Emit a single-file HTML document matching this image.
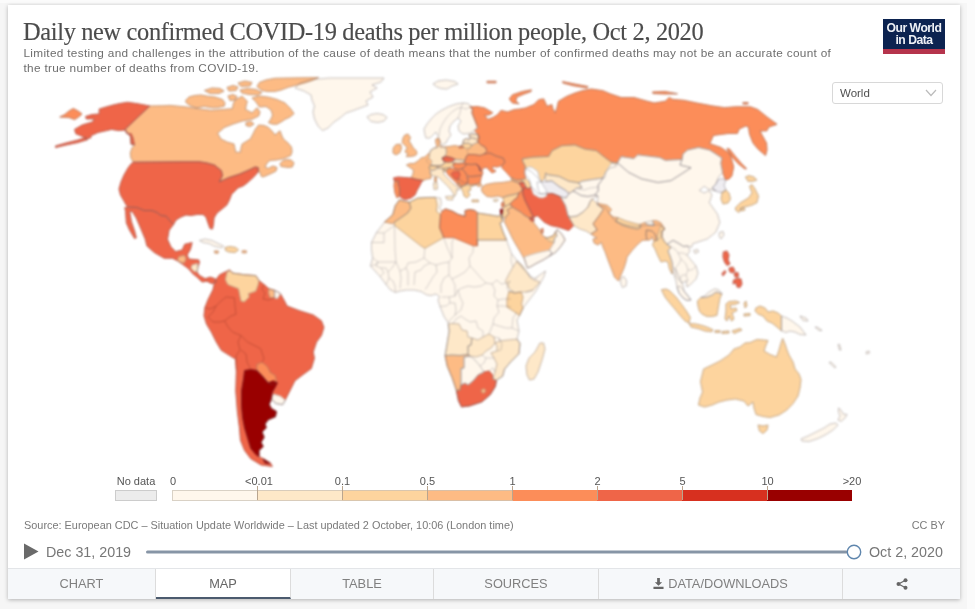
<!DOCTYPE html>
<html><head><meta charset="utf-8"><title>Daily new confirmed COVID-19 deaths per million people</title>
<style>
html,body{margin:0;padding:0;}
body{width:975px;height:609px;background:#f6f6f6;position:relative;overflow:hidden;font-family:"Liberation Sans",sans-serif;}
#card{position:absolute;left:8px;top:5px;width:952px;height:594px;background:#fff;box-shadow:0 1px 4px rgba(0,0,0,.28);}
#title{position:absolute;left:23px;top:17px;font-family:"Liberation Serif",serif;font-size:24.4px;color:#4c4c4c;white-space:nowrap;letter-spacing:-.34px;line-height:30px;-webkit-text-stroke:.15px #4c4c4c;}
.sub{position:absolute;left:23.5px;font-size:11.8px;letter-spacing:.31px;color:#6e6e6e;white-space:nowrap;line-height:15px;}
#logo{position:absolute;left:883px;top:19px;width:62px;height:30px;background:#0c2350;border-bottom:5px solid #b5344c;color:#eef1f6;font-weight:bold;font-size:12.2px;line-height:12.4px;text-align:center;letter-spacing:-.5px;}
#logo span{display:block;padding-top:3px;}
#sel{position:absolute;left:832px;top:82px;width:109px;height:20px;border:1px solid #d8d8d8;border-radius:3px;background:#fff;font-size:11.5px;color:#505050;line-height:20px;}
#sel span{padding-left:7px;}
.leg{position:absolute;font-size:11px;color:#555;top:475px;line-height:12px;white-space:nowrap;transform:translateX(-50%);}
#src{position:absolute;left:24px;top:519px;font-size:10.9px;color:#7a7a7a;white-space:nowrap;line-height:12px;}
#cc{position:absolute;right:30px;top:519px;font-size:10.9px;color:#7a7a7a;line-height:12px;}
.tl{position:absolute;top:543px;font-size:14.3px;color:#777;line-height:18px;white-space:nowrap;}
#tabs{position:absolute;left:8px;top:568px;width:952px;height:31px;background:#f6f8fa;border-top:1px solid #e3e5e8;box-sizing:border-box;}
.tab{position:absolute;top:0;height:30px;box-sizing:border-box;border-right:1px solid #dcdcdc;font-size:12.8px;color:#808080;text-align:center;line-height:30px;}
.tab.on{background:#fff;border-bottom:2px solid #4b5b6e;height:30px;top:0;color:#666;}
#title,.sub,.leg,#src,#cc,.tl,.tab,#logo span,#sel span{filter:blur(.35px);}
</style></head><body>
<div style="position:absolute;left:967px;top:0;width:8px;height:609px;background:#fbfbfb"></div><div style="position:absolute;left:0;top:0;width:975px;height:3px;background:#fbfbfb"></div>
<div id="card"></div>
<div id="title">Daily new confirmed COVID-19 deaths per million people, Oct 2, 2020</div>
<div class="sub" style="top:46px">Limited testing and challenges in the attribution of the cause of death means that the number of confirmed deaths may not be an accurate count of</div>
<div class="sub" style="top:61px">the true number of deaths from COVID-19.</div>
<div id="logo"><span>Our World<br>in Data</span></div>
<div id="sel"><span>World</span><svg style="position:absolute;right:5px;top:6px" width="12" height="8" viewBox="0 0 12 8"><path d="M1 1 L6 6.5 L11 1" fill="none" stroke="#bbb" stroke-width="1.2"/></svg></div>
<svg id="map" style="position:absolute;left:0;top:0;filter:blur(.8px)" width="975" height="609" viewBox="0 0 975 609" stroke-linejoin="round">
<g stroke-width=".9">
<path d="M295 88L300 83L312 79.5L330 78L384 78L381 82L372 85L377 88L370 92L373 97L366 101L368 105L360 108L352 111L346 113L340 118L334 122L328 128L322.5 130.5L318 126L314.5 119L313 112L314.5 106L312 100L311 95L304 91Z" fill="#fff7ec" stroke="#fff7ec"/>
<path d="M149.7 106L163 105.8L170 105.4L186.4 107L200 109L211 110.3L222 109.5L232.4 108.7L233.5 103L235.7 99.6L242.2 96.3L247.2 101.3L246 106L245.5 109.5L252 112.8L257 107.8L260 112L258.7 116L252 119.3L242.2 121L233 124L224.2 127.5L217.6 133.3L220.9 139L227 142L234 144L235 149L235.7 152.2L240.6 152.2L241 148L242.2 144L247 141L250.4 139L253 134L255.4 129.2L258.7 125L264 125.5L268.5 127.5L272 131L275 135L280 130.8L281.5 135L283.3 139L288 143L291.5 147.2L292 152L290.7 155.5L283.3 158.7L276 160L270 160.4L267 163L265 167L268 168.5L273 166L277 167.5L276 171L270 174L263 177L261 176L260 172L258.2 171.9L258.2 167.6L255.1 167L249 170L239.1 174.3L229.3 177.4L219.4 181.7L222.5 175.6L221.3 170.6L214.5 165.1L207 163L199.7 161.8L180 161.8L133.3 162.2L131 158L130.3 153L132 148L134.5 144.7L131.2 144.2L130.6 136.8L127.5 133L125 129.4Z" fill="#fdbb84" stroke="#fdbb84"/>
<path d="M280 163.7L283 160.5L286.6 159.6L291 160L294 162.8L292.3 167L288 167.5L285 167L281 166.5Z" fill="#fdbb84" stroke="#fdbb84"/>
<path d="M259.5 82.4L266 80L275 78.3L318.6 77.5L312 80.5L306.3 82.4L297 85L288.2 87.3L281 90L275 91.4L268 91.5L262 90.6L257 86.5Z" fill="#fdbb84" stroke="#fdbb84"/>
<path d="M240 90L247 88.5L256 89.5L262 92.5L258 95L249 94.5L242 93Z" fill="#fdbb84" stroke="#fdbb84"/>
<path d="M204.5 90.5L212 88L220 88.5L224 91L219 93.5L210 93.5Z" fill="#fdbb84" stroke="#fdbb84"/>
<path d="M227 87.5L233 85.5L238 87L236 90.5L229 91Z" fill="#fdbb84" stroke="#fdbb84"/>
<path d="M238 83L245 81L252 82.5L250 86L241 86.5Z" fill="#fdbb84" stroke="#fdbb84"/>
<path d="M185.6 100.5L189 97L194.6 95.5L201 95L207.8 96.3L215 97L222.5 99.6L225 103L224.2 106.2L218 107.5L212.7 107.8L204 106.5L196.3 107.8L190 105.5L186.4 102.9Z" fill="#fdbb84" stroke="#fdbb84"/>
<path d="M228 96L233 94.5L237 96.5L235 100L230 100.5Z" fill="#fdbb84" stroke="#fdbb84"/>
<path d="M252 98L259 96L268.5 97.2L277 99.5L285 103L290 108L294 113.6L290 117L285 119.3L281 122L276.7 124.3L272 124L268.5 122.6L271 119L272.6 115L271 110L266 106.5L259.5 107L256 102Z" fill="#fdbb84" stroke="#fdbb84"/>
<path d="M246 122.5L251 121.5L254 124L250 126.5L246 125.5Z" fill="#fdbb84" stroke="#fdbb84"/>
<path d="M133.3 162.2L180 161.8L199.7 161.8L207 163L214.5 165.1L221.3 170.6L222.5 175.6L219.4 181.7L229.3 177.4L239.1 174.3L249 170L255.1 167L258.2 167.6L258.2 171.9L253.9 176.8L247.1 183L243 186L237.9 187.9L234 192L231.7 194L229.3 200.2L226.8 205L222 209L217 213L214 218L213.5 224L212.5 229L210 228.5L208 223L206 217L203 214.5L197 214.5L191 215.5L186 215L181 217L176 220L173.5 224.5L170 221L166 216L161 215.5L157 212.5L152 210.5L144 210.5L137 207.5L127 206.5L124 201L120.5 195L119 189L121 182L124 175L128 168L131 164Z" fill="#ef6548" stroke="#ef6548"/>
<path d="M149.7 106L138 103.8L127.5 102.3L120 103.5L114 104.8L106 107L99.2 109.1L99.2 114L91.8 114.6L85.6 116.5L86.3 118.9L94.3 118.9L92.4 122L87 123.5L82 125.1L74.6 129.4L75.8 133.7L82 136.2L85.6 138.6L90.6 138L91.2 135.6L98 132.5L106.6 130.6L111.5 129.4L118.9 130.6L125 130L126.9 133.7L131.2 133.7L133.1 138L134.5 144.7L131.2 144.2L130.6 136.8L127.5 133L125 129.4Z" fill="#ef6548" stroke="#ef6548"/>
<path d="M85.6 137.4L88 139.5L78 142.5L66 145L55.5 147.5L55.5 146L66 143L78 140Z" fill="#ef6548" stroke="#ef6548"/>
<path d="M124.8 207.5L137 207.5L144 210.5L152 210.5L157 212.5L161 215.5L166 216L170 221L173.5 224.5L169.1 230.3L167.5 239.3L170.8 246.7L175.7 251.6L182.2 250L184.7 244.3L192.1 242.6L190.5 249.2L187.2 254.9L188.8 259L198.7 259.9L199.5 262.3L197.8 267.2L197 272.2L199.5 275.5L205.2 278.7L210.2 277.1L215.1 278.7L216.7 282L211.8 283.7L206.9 281.2L202 282L197 277.1L192.9 273.8L188.8 268.9L182.2 264L177.3 260.7L172.4 258.2L164.2 258.2L154.3 252.5L146.9 245.9L145.3 239.3L141.2 229.5L136.3 218L132.2 211.4L129.7 211.4L131.3 221.3L134.6 231.1L136.3 237.7L134.6 238.5L129.7 230.3L126.4 223L125.6 211.4Z" fill="#ef6548" stroke="#ef6548"/>
<path d="M179 256.5L184.5 255.5L186 259L184 263L180 262L177.5 260Z" fill="#fdbb84" stroke="#fdbb84"/>
<path d="M192 265L197.5 263.5L198 268L197 272L193.5 271L191 268Z" fill="#fee8c8" stroke="#fee8c8"/>
<path d="M199.5 240.5L205 239L212 240.5L218 243.5L223.5 246L222 247.8L215 246.5L209 243.5L203 242.5Z" fill="#fff7ec" stroke="#fff7ec"/>
<path d="M225 247.5L230 246.5L236 247.5L238.5 250L235 252.5L229 252L225.5 250.5Z" fill="#fdd49e" stroke="#fdd49e"/>
<path d="M214.3 251L218.4 251L218 253.3L214.8 253Z" fill="#fdbb84" stroke="#fdbb84"/>
<path d="M242.2 250.8L246.3 250.8L246.3 252.8L242.2 252.8Z" fill="#fdbb84" stroke="#fdbb84"/>
<path d="M214.7 281.3L219.6 274.8L229.5 269.9L232.8 273.1L244.3 274.8L255.8 275.6L259 280.5L264 284.6L268.9 288.7L274.6 290.4L278 292L280.4 293.7L284.5 301L287 306L300 310.9L313.2 315L321.4 320.8L323.9 327.3L321.4 335.5L316.5 342.1L313.2 352L314.4 358.2L311.3 368.5L303 374.6L294.9 380.8L290.8 389L285.6 399.2L282.6 404.4L276.4 403.3L271.3 399.2L269.2 404.4L271.3 408.5L276.4 411.5L275.4 416.7L268.2 419.7L265.1 423.8L266.2 427.9L262 432L264.1 437.2L261 442.3L263.1 446.4L259 450.5L259 456.7L264 459L270.3 462.8L272.3 466.5L261 464.9L250.8 458.7L244.6 450.5L240.5 440.3L239.5 427.9L237.4 411.5L235.8 391L236.4 370.5L235.4 358L234.4 358.5L221.3 350.3L216.3 342.1L211.4 332.2L206.5 324L204 315.8L204.9 307.6L208.1 299.4L213 289.6Z" fill="#ef6548" stroke="#ef6548"/>
<path d="M227 272.3L229.5 270.5L232.8 273.1L244.3 274.8L255.8 275.6L259 280.5L258.2 284.6L255.8 291.2L248.4 293.7L249.2 297L244.3 301.9L241 301L238.5 288.7L227.8 284.6L225.4 279.7Z" fill="#fdd49e" stroke="#fdd49e"/>
<path d="M268.9 288.7L274.6 290.4L274.6 297.8L270 297.5L268.5 293Z" fill="#fdbb84" stroke="#fdbb84"/>
<path d="M274.6 290.4L278 292L280.4 293.7L277.5 298.6L274.6 297.8Z" fill="#fff7ec" stroke="#fff7ec"/>
<path d="M256.9 364.4L262 362.3L267.2 366.4L270.3 372.6L275.4 375.6L276.4 381.8L272.3 384.9L268.2 382.8L262 375.6L256.9 370.5Z" fill="#fc8d59" stroke="#fc8d59"/>
<path d="M244.6 370.5L250.8 369.5L256.9 370.5L262 375.6L268.2 382.8L273.3 380.8L277.4 382.8L275.4 386.9L272.3 392L271.3 399.2L269.2 404.4L271.3 408.5L276.4 411.5L275.4 416.7L268.2 419.7L265.1 423.8L266.2 427.9L262 432L264.1 437.2L261 442.3L263.1 446.4L259 450.5L259 456.7L255.9 454.6L250.8 448.5L247.7 438.2L244.6 427.9L242.6 417.7L241.5 405.4L241.5 391L243.6 378.7Z" fill="#990000" stroke="#990000"/>
<path d="M263 459L270 463.5L265 463Z" fill="#990000" stroke="#990000"/>
<path d="M273.3 394.1L280.5 396.2L285.6 400.3L282.6 405L275.4 403.7L271.9 399.2Z" fill="#fff7ec" stroke="#fff7ec"/>
<path d="M367 117L371 114.5L377 113.5L383 114.5L387 117.5L384 121L378 122.5L371 121.5Z" fill="#fff7ec" stroke="#fff7ec"/>
<path d="M433 84L438 81L446 80L455 81.5L458 84L452 86L447 89L441 88.5L437 87Z" fill="#fff7ec" stroke="#fff7ec"/>
<path d="M487 81.3L496 81.3L496 82.8L487 82.8Z" fill="#fc8d59" stroke="#fc8d59"/>
<path d="M425 135L424 129L427 124L431 119L436 114L442 110L449 106.5L456 104L463 103L468 103.5L471 106L472.5 109L472 113L474 118L476 123L477 127L474 131L469 133.5L463 134L459 131L458 126L461 121L458 118L454 121L450 126L449 131L451 135L448 139L446 143L442 145L439 141L438 136L436 132L433 135L430 138L426 138Z" fill="#fff7ec" stroke="#fff7ec"/>
<path d="M404.7 135.2L408 134L410.5 137.7L409 141L411 144L413 147.5L416.2 150.8L417 153.5L415.4 155.5L411 156.5L406.3 156.6L408 153.5L405 152L407.2 147.5L405 145.5L402.2 142.6L403 138Z" fill="#fdbb84" stroke="#fdbb84"/>
<path d="M393.2 148L396 144.5L400.6 144.3L401.5 148L400 152.5L396 154.9L393 153Z" fill="#fdbb84" stroke="#fdbb84"/>
<path d="M406.5 165L410 163.5L414 163.5L418 161L421 158L425 157L428 154L431 151L434 148L437 147.5L436 143L435.5 139.5L438.5 138L440 141L439.5 145L443 147L449 146.5L455 145.5L459 146.5L461.5 146L463 143.5L463.5 140L467 138.5L469 140L470 137.5L469 135L473 134L478 134.5L479 138L478 142L481 145L485 147L487 151L484 154L480 155.5L474 154.5L468 154.5L466 157L465 160.5L461 160L455.5 159.5L451 157.5L446 156.5L442 158L445 162L442 165.5L437 166L431 165.5L429 167L430 169.5L430 172L431 175L431 178.5L427 179L423 180.5L417 179.5L411 178L413 174L413.5 170L410 167.5Z" fill="#fdbb84" stroke="#fdbb84"/>
<path d="M393.5 178L398 177L405 177.5L411 178L417 179.5L423 180.5L421.5 182L419.5 186L417 190.5L415 195L411 198L406 199.5L402 198.5L399.5 196L399.5 188L398 184L398.5 181L394.5 181Z" fill="#ef6548" stroke="#ef6548"/>
<path d="M394.5 181L398.5 181L398 184L399.5 188L399.5 196L397 198L395 193L394 186Z" fill="#fc8d59" stroke="#fc8d59"/>
<path d="M429.5 155L430.5 150L434 148L437 147.5L439.5 145.5L440.5 147.5L443 147L446 148L446.5 153L445 156L442 158L445 162L442 165.5L437 166L431 165.5L432 161L429 158Z" fill="#fee8c8" stroke="#fee8c8"/>
<path d="M442 158L446 156.5L451 157.5L455.5 159.5L452 162L447 162.5L443.5 161Z" fill="#ef6548" stroke="#ef6548"/>
<path d="M437 166L442 165.5L445 162L447 162.5L452 162L454 163L453 166L449 168L443 168.5L438 168Z" fill="#fdd49e" stroke="#fdd49e"/>
<path d="M429 167L431 165.5L437 166L438 168L434 170L430 169.5Z" fill="#fdd49e" stroke="#fdd49e"/>
<path d="M452 162L455.5 159.5L461 160L465 160.5L464 163L458 163.5L454 163Z" fill="#fee8c8" stroke="#fee8c8"/>
<path d="M430 172L434 170L438 168L443 168.5L446 171L443 171L444.5 175L448.5 179L453 183.5L457 186.5L459.5 190L456.5 189.5L456.5 193L454.5 196.5L452.5 192L448 186.5L443 181.5L438.5 177L434 176L431 175Z" fill="#fee8c8" stroke="#fee8c8"/>
<path d="M445.5 196.5L453.5 196L452.5 200L447 199.5Z" fill="#fee8c8" stroke="#fee8c8"/>
<path d="M433.5 183L437 182.5L437.5 189L434 189.5Z" fill="#fee8c8" stroke="#fee8c8"/>
<path d="M434.5 177.5L436.5 177.5L436.5 181.5L434.5 181.5Z" fill="#fdbb84" stroke="#fdbb84"/>
<path d="M453 166L454 163L458 163.5L464 163L466.5 164L464 167.5L459 169.5L455 169Z" fill="#fc8d59" stroke="#fc8d59"/>
<path d="M464 167.5L466.5 164L471 164.5L476 164L479 167L480 171L483 172L482 175L477 176L471 176.5L467 175.5L465 172L462 169Z" fill="#fc8d59" stroke="#fc8d59"/>
<path d="M464 163L465 160.5L466 157L468 154.5L474 154.5L480 155.5L484 154L490 153L496 156L503 158L505 162L502 165.5L497 167L493 166.5L492 169L496 171L492 173L489 170L487 167.5L483 168L482 171L480 171L479 167L476 164L471 164.5L466.5 164Z" fill="#fc8d59" stroke="#fc8d59"/>
<path d="M476 164L479 166L481 169.5L480 171L479 167Z" fill="#ef6548" stroke="#ef6548"/>
<path d="M446 171L449 168L455 169L459 169.5L462 169L465 172L467 175.5L467 177L468 180L467.5 183.5L465 185L461 188L458.5 186L456 182.5L452 178.5L448 174.5Z" fill="#fc8d59" stroke="#fc8d59"/>
<path d="M443 168.5L449 168L446 171L443 171Z" fill="#fdd49e" stroke="#fdd49e"/>
<path d="M451 174L453 172L459 171.5L460 175L458 179.5L455 179Z" fill="#ef6548" stroke="#ef6548"/>
<path d="M458 179.5L460 179L462 182L465 182.5L467.5 183.5L465 185L462 186L460 184L458 182.5Z" fill="#fc8d59" stroke="#fc8d59"/>
<path d="M458.5 186L458 182.5L460 184L461 188Z" fill="#fdbb84" stroke="#fdbb84"/>
<path d="M467 177L471 176.5L477 176L482 175L481 178L480 183L476 184.5L471 185L467.5 183.5L468 180Z" fill="#fc8d59" stroke="#fc8d59"/>
<path d="M461 188L462 186L465 185L467.5 185L471 185L476 184.5L473 186L470 187L471 190L468 191L470 195L467 198L464 196L463 192Z" fill="#fdd49e" stroke="#fdd49e"/>
<path d="M472 200L478.5 200L478.5 201.8L472 201.8Z" fill="#fdd49e" stroke="#fdd49e"/>
<path d="M493.5 199.8L496 199L498.3 199.6L497 201.5L494 201.5Z" fill="#fee8c8" stroke="#fee8c8"/>
<path d="M476 184.5L480 183L482 185.5L478 186.5Z" fill="#fdbb84" stroke="#fdbb84"/>
<path d="M461.5 146L463 143.5L468 143L472 145L470 148L466 148.5Z" fill="#fdd49e" stroke="#fdd49e"/>
<path d="M463.5 140L467 138.5L469 140L470 137.5L475 138.5L478 142L472 145L468 143L463 143.5Z" fill="#fee8c8" stroke="#fee8c8"/>
<path d="M469 135L473 134L478 134.5L479 138L475 138.5L470 137.5Z" fill="#fee8c8" stroke="#fee8c8"/>
<path d="M459 146.5L461.5 146L464 147.5L459.5 148.3Z" fill="#fc8d59" stroke="#fc8d59"/>
<path d="M469.9 107.1L477 106.5L484.6 107.9L492.8 112.8L489 115L484.6 115.3L487.9 119.4L493 117.5L497.8 114.5L501 110.4L507.6 112L514.2 109.6L520 109L525.7 107.9L533.9 104.6L538.8 99.7L543.7 98.9L547 106.3L551.9 104.6L553 109L555.2 112.8L556.9 107.9L558.5 101.3L566.7 96.4L574.9 93.1L583 90.5L591.3 89L602.8 90.7L610 93.8L621 97.5L634 97.5L647 101.2L654.3 103L665.4 101.2L669 97.5L672.8 99.4L683.8 100.3L696.8 103L711.5 105.8L724.5 107.7L735.5 106.8L750.3 106.8L757.7 109.5L766.9 116.9L777 124.3L768.8 127L766.9 130.8L760 131L762 135L766.5 143L767 150L765.5 155.5L758 149L753 143L749.5 134L748.5 127L745.7 126L739.2 129L737.4 133.5L728 133.5L713.4 135.4L709.7 143.7L720.8 147.4L730 153.8L733.7 166.8L731.8 176L729 179L725.4 179.7L722.6 172.3L720.8 163L722 158L709.7 150L698.6 147.4L687.5 150L683 153.8L682 159.4L665.4 160.3L659.8 157.5L637.7 154.8L634 158.5L621 156.6L617.4 163L611 162L604.5 157.2L596.3 150.6L584.8 149L574.9 144.9L561.8 145.7L552 150.6L548.7 156.4L532.2 157.2L522.4 158.8L522.8 161.5L525.7 167L524 172L525.7 178.5L521 180L515.8 180L511 177.5L506 172L502 168L502 165.5L505 162L503 158L496 156L490 153L484 154L487 151L485 147L481 145L478 142L479 138L478 134.5L474.8 130.9L478 127.6L476 123L474 118L472 113L472.5 109Z" fill="#fc8d59" stroke="#fc8d59"/>
<path d="M509.3 98.9L512.5 94.8L522.4 91.5L531.4 89.9L531 91.5L524 94L516.7 97.2L515.8 101.3L519.1 103.8L512.5 103Z" fill="#fc8d59" stroke="#fc8d59"/>
<path d="M562.6 81.6L574.9 84.1L588.1 86.6L587 88L573.3 85.7L563 83Z" fill="#fc8d59" stroke="#fc8d59"/>
<path d="M652.5 92L665 91.5L677.4 93.8L665 94L653 93.5Z" fill="#fc8d59" stroke="#fc8d59"/>
<path d="M727 148.5L729.5 149L735 156L741 163L746.6 168.6L745 169L738 163.5L732 157L728 151Z" fill="#fc8d59" stroke="#fc8d59"/>
<path d="M743 102.5L748 102.5L748 104L743 104Z" fill="#fc8d59" stroke="#fc8d59"/>
<path d="M59.8 117L64.7 114.6L69 111L73.3 108.5L78 111L82 114L78.5 117L74.6 119.6L69 117.5Z" fill="#fc8d59" stroke="#fc8d59"/>
<path d="M522.4 158.8L532.2 157.2L548.7 156.4L552 150.6L561.8 145.7L574.9 144.9L584.8 149L596.3 150.6L604.5 157.2L611 162L617.4 163L616 166.5L610 168L606 171.5L604.5 177.9L591.8 179.6L582 181.2L578.7 182.8L568.8 181.2L559 176.3L547.5 174.6L545.8 173L545 178L541 182L537 177L531 171.3L524.5 168L525.7 167L522.8 161.5Z" fill="#fdd49e" stroke="#fdd49e"/>
<path d="M545.8 173L547.5 174.6L559 176.3L568.8 181.2L578.7 182.8L582 187.8L577 188L573 191L569 193.5L565 190L559 186.5L552 181L546 181.5L545 178Z" fill="#fee8c8" stroke="#fee8c8"/>
<path d="M537 182L541 182L546 181.5L552 181L559 186.5L565 190L569 193.5L566 198L560.6 196.8L552.4 193.5L545 193L540 194L538 189Z" fill="#efedf1" stroke="#efedf1"/>
<path d="M578.7 182.8L582 181.2L591.8 179.6L603.3 177.9L601.3 180.8L598.2 185L598.2 191L595 195L588 196.5L581 195.5L577 193L573 191L577 188L582 187.8Z" fill="#fff7ec" stroke="#fff7ec"/>
<path d="M482 187L486 184.5L494 183L502 182.5L509 181.5L512 180.5L515.8 182L519 183L521 186L522.8 189.4L519 193L514 194.5L507 196L503 197.5L498 196L492 197L487 196.5L483 193L481.5 190Z" fill="#fdbb84" stroke="#fdbb84"/>
<path d="M511 177.5L515.8 180L521 180L524 182.5L519 183L515.8 182L512 180.5Z" fill="#fdbb84" stroke="#fdbb84"/>
<path d="M519 183L524 182.5L526 187L522.8 189.4L521 186Z" fill="#ef6548" stroke="#ef6548"/>
<path d="M521 180L525.7 178.5L530 182.5L531 187L528 189L526 187L524 182.5Z" fill="#fdd49e" stroke="#fdd49e"/>
<path d="M503 197.5L507 196L514 194.5L519 193L517 198L514.6 199.3L510 204L505 206.5L503.5 202Z" fill="#fdd49e" stroke="#fdd49e"/>
<path d="M501.5 203L503.5 202L504 206L502 207.5Z" fill="#fc8d59" stroke="#fc8d59"/>
<path d="M500.3 209.5L502.3 209L502.8 213.5L502 219.5L500.7 216Z" fill="#990000" stroke="#990000"/>
<path d="M503 212L504 206.5L505 206.5L510 204L512 207L507 210L509 213L505 218L502 217.5Z" fill="#fdd49e" stroke="#fdd49e"/>
<path d="M514.6 199.3L517 198L519 193L522.8 189.4L522.8 194.3L525.3 200.9L529.4 209.1L533.5 217.3L529.4 218.1L524 215L521.2 212.4L513 207.5L510 204Z" fill="#fc8d59" stroke="#fc8d59"/>
<path d="M522.8 189.4L526 187L528 189L531 187L534 189L537 193.5L543 194.5L552.4 193.5L560.6 196.8L565.5 205.8L568 215.7L573.7 225.5L568.8 230.5L559 227.2L550.8 225.5L544.2 222.2L537.6 215.7L533.5 217.3L529.4 209.1L525.3 200.9L522.8 194.3Z" fill="#ef6548" stroke="#ef6548"/>
<path d="M505 218L509 213L507 210L512 207L513 207.5L521.2 212.4L524 215L529.4 218.1L533 219.5L534 223L538 228L541 232L543 236L547 238L553 236L555.5 232L557 229.5L560 232L563 236L565 240L561 246L556 252L549.4 256.1L543 260L536.1 263.5L531 266.5L527.5 268L526 264L524.3 259L521.5 254L518.4 248.7L515 243L511.8 237L508 229L504.5 222Z" fill="#fdbb84" stroke="#fdbb84"/>
<path d="M529.4 218.1L533.5 217.3L534 221L531 221Z" fill="#ef6548" stroke="#ef6548"/>
<path d="M541 229L543 228.5L543 233L541.5 233Z" fill="#fc8d59" stroke="#fc8d59"/>
<path d="M545 237.5L547 238L553 236L555.5 232L557 236L554.6 238L553.9 242.8L548 240.5Z" fill="#fdd49e" stroke="#fdd49e"/>
<path d="M549.4 256.1L556 252L561 246L565 240L563 236L560 232L557 229.5L556 233L557 236L554.6 238L553.9 242.8L549.4 250.2L552 253Z" fill="#fff7ec" stroke="#fff7ec"/>
<path d="M527.5 268L531 266.5L536.1 263.5L543 260L549.4 256.1L552 253L549.4 250.2L543 251.5L536.1 253.2L530 255L524.3 257L526 264Z" fill="#fff7ec" stroke="#fff7ec"/>
<path d="M560.6 196.8L566 198L569 193.5L573 191L577 193L581 195.5L588 196.5L595 195L598 196L592 199L590 202L588 207L583 212L577 216L570 217L568 215.7L565.5 205.8Z" fill="#fff7ec" stroke="#fff7ec"/>
<path d="M568 215.7L570 217L577 216L583 212L588 207L590 202L592 199L597.2 203.3L603.3 209.5L599.2 215.6L593.1 223.8L597.2 230L591 234.1L586 231L580 229L573.7 225.5Z" fill="#fee8c8" stroke="#fee8c8"/>
<path d="M384.6 222L392.8 214.6L395.3 205.6L399.4 199.9L409.3 202.3L417.5 198.2L426 197.5L435.5 197.4L440.5 198.2L441.3 204L439.5 208L442.1 211.3L445.4 208.9L452 211L458.5 214.6L465.1 216.3L465.1 210.5L470 209.5L475 210.5L477.4 213L488 214.6L498 216.3L501.2 214.6L502.9 221.2L500 223L503 232L506.5 240L509 247L511.5 253.5L517 260.6L522 267L526 272L530.5 276.4L534.6 278.5L545.5 271L544 276.5L536 291L523.6 307.3L519.5 315.5L517 320L519 331L517 339.2L520 343.3L519 353.6L510.8 361.8L504.6 369L502.6 376.2L496.4 380.3L495.4 386.4L490.3 394.6L482 401.8L469.7 405.9L461.5 406.9L458.5 400.8L456.4 390.5L452.3 378.2L447.2 365.9L445.1 355.6L447.2 343.3L449.2 331L448.2 322.8L444.1 316.7L440 306.4L438 300L439.5 296.5L436 294L431 295.5L427 295L421 291.5L414 290L406.7 290L400 291L395.4 292.5L390 289.5L386.2 284.7L380 276.5L376 272L370.5 266L372.6 258L371.5 250L371.5 242.5L376.4 232.7Z" fill="#fff7ec" stroke="#fff7ec"/>
<path d="M384.6 222L392.8 214.6L395.3 205.6L399.4 199.9L409.3 202.3L410.9 208.1L407.6 213L399 219L394.5 222L392.8 223.7Z" fill="#fdbb84" stroke="#fdbb84"/>
<path d="M409.3 202.3L417.5 198.2L426 197.5L435.5 197.4L437.2 204.8L436.4 211.3L440.5 214.6L439.6 227.8L442.1 233.5L443.7 237.6L424.9 248.3L420.8 245.8L394.5 225.3L394.5 222L399 219L407.6 213L410.9 208.1Z" fill="#fdd49e" stroke="#fdd49e"/>
<path d="M440.5 214.6L442.1 211.3L445.4 208.9L452 211L458.5 214.6L465.1 216.3L465.1 210.5L470 209.5L475 210.5L477.4 213L477.4 245.8L473.3 245.8L453.6 237.6L449.5 237.6L443.7 237.6L442.1 233.5L439.6 227.8Z" fill="#fc8d59" stroke="#fc8d59"/>
<path d="M477.4 213L488 214.6L498 216.3L501.2 214.6L502.9 221.2L500 223L503 232L506.5 240L477.4 240Z" fill="#fdd49e" stroke="#fdd49e"/>
<path d="M513 267L517 261L522 265L527 272L530 277.5L534 280L540 282L533 290L526 292L521 292L514 293L509 288L505.5 281L509 274Z" fill="#fee8c8" stroke="#fee8c8"/>
<path d="M509 291.5L514 293L521 292L523 297L521.5 304L523 308L519.5 315.5L514 311.5L507 307L507 299Z" fill="#fdd49e" stroke="#fdd49e"/>
<path d="M458.5 400.8L456.4 390.5L460 390L461 385L465 383L468 385L473 381L478 375L484 372L489 371L492 374L493 379L496.4 380.3L495.4 386.4L490.3 394.6L482 401.8L469.7 405.9L461.5 406.9Z" fill="#ef6548" stroke="#ef6548"/>
<path d="M481 390.5L484 388.5L486 391L483 393.5Z" fill="#fdbb84" stroke="#fdbb84"/>
<path d="M445.1 355.6L452 355L460 355.5L468 354.5L470 356L464 357L464 368L461 368.5L461 385L460 390L456.4 390.5L452.3 378.2L447.2 365.9Z" fill="#fdbb84" stroke="#fdbb84"/>
<path d="M464 357L470 356L475 360L480 366L484 372L478 375L473 381L468 385L465 383L461 385L461 368.5L464 368Z" fill="#fff7ec" stroke="#fff7ec"/>
<path d="M447.2 343.3L449.2 331L448.2 324L453 323.5L459 324L462 330L467 331L468 337L472 338L471 345L468 346L468 354.5L460 355.5L452 355L445.1 355.6Z" fill="#fee8c8" stroke="#fee8c8"/>
<path d="M468 346L471 345L472 338L478 340L483 337L489 334L494 337L495 343L491 348L486 351L482 355L476 357L470 356L468 354.5Z" fill="#fee8c8" stroke="#fee8c8"/>
<path d="M495 343L500 341L508 340L517 339.2L520 343.3L519 353.6L510.8 361.8L504.6 369L502.6 376.2L496.4 380.3L493 379L495 372L497 364L494 358L491 353L497 351L497 346Z" fill="#fee8c8" stroke="#fee8c8"/>
<path d="M527 375L526 366L529 358L535 352L540 343L543.5 343L545 349L542 360L538 372L534 379L529.5 380Z" fill="#fee8c8" stroke="#fee8c8"/>
<path d="M605.4 172.6L611.5 163.1L615.6 164.4L617.4 163L621 165.8L628.5 172.3L641.4 178.8L658 182.5L671 180.6L684 172.3L691 167.7L680 165L682 159.4L683 153.8L687.5 150L698.6 147.4L709.7 150L722 158L720.8 163L722.6 172.3L718 178L716 184L712 188L716 191L708 189L704.3 186.3L699.4 190.4L704 193L709.3 190.4L712 195L709.3 202.7L717.5 214.2L719.9 222.4L715.8 232.2L707.6 238.8L697.8 242.1L692.8 243.7L691.5 247.4L688 246L683.3 246.4L678 243L673 240.3L667 244.4L664 241L661.8 236.2L662 231L664.9 229L660.8 224.8L652.6 224.8L645 225.5L636.2 226.8L626 225L615.7 221.7L608.5 212.5L605.4 207.4L597.2 205.3L598 196L595 195L598.2 191L598.2 185L601.3 180.8Z" fill="#fff7ec" stroke="#fff7ec"/>
<path d="M693.6 250.5L697.7 249.5L698.5 252L695 253.5Z" fill="#fff7ec" stroke="#fff7ec"/>
<path d="M719.5 232.5L723 231.4L724 235L721 239L719 236Z" fill="#fff7ec" stroke="#fff7ec"/>
<path d="M617.4 163L621 156.6L634 158.5L637.7 154.8L659.8 157.5L665.4 160.3L682 159.4L680 165L691 167.7L684 172.3L671 180.6L658 182.5L641.4 178.8L628.5 172.3L621 165.8Z" fill="#fff7ec" stroke="#fff7ec"/>
<path d="M716 184L718 180L722 178.5L726 180.5L724 185L726 190L722 192.5L718 192L716 191L712 188Z" fill="#efedf1" stroke="#efedf1"/>
<path d="M722 192.5L726 190L729 193L730.5 199L728 203L723 204L721 199Z" fill="#fdd49e" stroke="#fdd49e"/>
<path d="M745.4 177L749 175.6L754 177L756.9 180L753 181.3L748 181.3Z" fill="#fdd49e" stroke="#fdd49e"/>
<path d="M749.5 186.3L752 184.6L755 189L758.5 196L756.9 202.7L752 205L748.7 206L742.1 207.6L738.8 212.5L735.5 210L735.5 207.6L740.5 202.7L748.7 197.8L752 192.8Z" fill="#fdd49e" stroke="#fdd49e"/>
<path d="M740 208.5L744 207.5L745 210L741 211Z" fill="#fdd49e" stroke="#fdd49e"/>
<path d="M597.2 203.3L607.4 205.4L611.5 209.5L609 213L613 217L617.7 217.7L616 221L622 225L630 227.5L637 229L640.3 228L640 224.5L645 222.5L648 225L654 225.5L652.6 220.8L656.7 220.8L660.8 222.8L664.9 229L662 231L661.8 236.2L658 240L656.7 240.3L655 234L652 231L647 230L646 235L647 240L642.3 240.3L637 245L632 250.5L627 257L625.9 262L624 268L621.8 273L618.5 281L614.5 277L611.5 269L608 260L605.4 252.6L603 247L601.3 242.3L598 245L594.1 243L593 239L597 238L591 234.1L597.2 230L593.1 223.8L599.2 215.6L603.3 209.5Z" fill="#fdbb84" stroke="#fdbb84"/>
<path d="M616 221L617.7 217.7L626 221L636.2 223.8L640 224.5L640.3 228L637 229L630 227.5L622 225Z" fill="#fdd49e" stroke="#fdd49e"/>
<path d="M645 222.5L652.6 220.8L654 225.5L648 225Z" fill="#fff7ec" stroke="#fff7ec"/>
<path d="M646 230L652 231L655 234L656.7 240.3L654 241L652 237L650 240L647 240L646 235Z" fill="#fdbb84" stroke="#fdbb84"/>
<path d="M621 278L624 276.5L626.7 281L626 286L622.5 287.5L620.5 283Z" fill="#fff7ec" stroke="#fff7ec"/>
<path d="M654 241L656.7 240.3L658 234L660.8 226L664.9 229L662 231L661.8 236.2L664 241L667 244.4L671 247L668 251L670 256L672 262L673 268L672 274L669.5 269L668 262L665 261L661 262L658 256L655 249L652.5 245Z" fill="#fdd49e" stroke="#fdd49e"/>
<path d="M667 244.4L673 240.3L678 243L683.3 246.4L688 246L690 251L687 255L691 260L696 266L698 273L696 279L691 284L687 287L686 281L682 283L678 279L676 276L675 268L677 272L680 279L683 285L684 291L688 296L691 300L687 300.5L683 298L679 293L677 287L676 281L673 272L672 262L670 256L668 251L671 247Z" fill="#fff7ec" stroke="#fff7ec"/>
<path d="M677 287L680 286L684 291L688 296L691 300L687 300.5L683 298L679 293Z" fill="#fff7ec" stroke="#fff7ec"/>
<path d="M661.5 289.7L666 289L669.7 290.8L676 297L682 305L687 312L690.3 317.4L689 323L685 321L680 315.4L674 308L669.7 303L665 297L663 293Z" fill="#fdd49e" stroke="#fdd49e"/>
<path d="M689 323.5L696 324L702.6 325.6L708 327.5L712.8 329.7L711.8 331.8L705 331L698.5 328.7L691 327Z" fill="#fdd49e" stroke="#fdd49e"/>
<path d="M715 330.5L720 330.5L720 332.5L715 332.5Z" fill="#fdd49e" stroke="#fdd49e"/>
<path d="M722 331.5L729 331L729 333L722 333.5Z" fill="#fdd49e" stroke="#fdd49e"/>
<path d="M732 331L740 328.5L742 330L734 333.5Z" fill="#fdd49e" stroke="#fdd49e"/>
<path d="M697.4 301L701 297.5L707 297L712 295L716 292L722 293.8L720 298L719 303L718 309L716.9 315.4L712 316.5L706.7 316.4L702 314L699.5 311.3L698 306Z" fill="#fdd49e" stroke="#fdd49e"/>
<path d="M701 297.5L704.6 295.9L709 292L714.9 288.7L719 290L722 293.8L716 292L712 295L707 297Z" fill="#fff7ec" stroke="#fff7ec"/>
<path d="M726 304L729 301.5L736 301L739.5 302.5L735 304.5L730 305L731 309L736 308L737 310.5L732 313L734 319L731.5 321L729 316L727 321L725 319L726 311Z" fill="#fdd49e" stroke="#fdd49e"/>
<path d="M744 303L746 301L747 306L745 308Z" fill="#fdd49e" stroke="#fdd49e"/>
<path d="M744 314L750 313.5L750 315.5L744 316Z" fill="#fdd49e" stroke="#fdd49e"/>
<path d="M723.3 252L727 251L729 255L728 260L730 264L727 265.5L724.5 262L723 257Z" fill="#ef6548" stroke="#ef6548"/>
<path d="M729 268L733 267L735 271L732 273L729.5 271.5Z" fill="#ef6548" stroke="#ef6548"/>
<path d="M734 273L738 272.5L738.5 277L735 277Z" fill="#ef6548" stroke="#ef6548"/>
<path d="M733.5 280L737 278.5L741 279L742 284L740 287.5L737 287L736 283L733 284Z" fill="#ef6548" stroke="#ef6548"/>
<path d="M722 273.5L725 270.5L726 272L723 276Z" fill="#ef6548" stroke="#ef6548"/>
<path d="M755.9 308L760 306L765 308L768 312L773 311L778 313L781.5 316L781.5 330.8L777 327L772 323L767 321L763 316L758 314L755 311Z" fill="#fdd49e" stroke="#fdd49e"/>
<path d="M781.5 316L787 318L792 321L796 324L800 327L803 331L806 335L800 334.5L795 332L790 331L786 332.5L781.5 330.8Z" fill="#fff7ec" stroke="#fff7ec"/>
<path d="M800 316L806 318L808 321L803 320.5Z" fill="#fff7ec" stroke="#fff7ec"/>
<path d="M700.5 381.6L703.6 369L712 365L720 361L729 355L734 349L740 347L745 343L750 342.6L757 339.5L763 340L768 340.5L766 345L764 351L770 354.5L776.5 357L779 350L781 343L782.7 338.5L785 344L787 350L789 355L793 362L795 369L799 374L801 379.5L800 388L798 396L793 403.5L786.8 410L779 415L770 417.5L763 416.5L756 414.5L754 408L753 402L748 406L744 401L735.4 399L727 400L719 402L712 405L704.6 407L698.5 405L700 398L702.6 392Z" fill="#fdd49e" stroke="#fdd49e"/>
<path d="M758 425L763 426L768 425L767 430L763 433.5L759.5 431Z" fill="#fdd49e" stroke="#fdd49e"/>
<path d="M838.5 408L841 410L843 414L847 414.5L845 418L841 421.5L838 420L840 416L838.5 412Z" fill="#fff7ec" stroke="#fff7ec"/>
<path d="M836 423L838 425L833 430L826 434.5L818 438.5L809 441.5L802 441L801 439L808 436L816 432L824 428L830 424Z" fill="#fff7ec" stroke="#fff7ec"/>
<path d="M829 362.5L831 362L836 367L835 368Z" fill="#fff7ec" stroke="#fff7ec"/>
<path d="M866 352L869 351L869.5 353L866.5 354Z" fill="#fff7ec" stroke="#fff7ec"/>
<path d="M815 327L818 327.5L822 330.5L819 330.5Z" fill="#fff7ec" stroke="#fff7ec"/>
<path d="M838 344.5L839.5 344.5L841 350L839.5 350Z" fill="#fff7ec" stroke="#fff7ec"/>
<path d="M525.3 168.9L528.5 167L531.9 167.2L537.6 171.3L539.3 177.9L542.5 184.5L546.7 191L546.7 196L543 197.8L539.3 197.6L533.5 194.3L531 186.9L529.4 179.6L525.3 174.6Z" fill="#ffffff" stroke="#ffffff"/>
</g>
<g fill="none" stroke="#5a5560" stroke-opacity=".42" stroke-width=".8">
<path d="M295 88L300 83L312 79.5L330 78L384 78L381 82L372 85L377 88L370 92L373 97L366 101L368 105L360 108L352 111L346 113L340 118L334 122L328 128L322.5 130.5L318 126L314.5 119L313 112L314.5 106L312 100L311 95L304 91Z"/>
<path d="M149.7 106L163 105.8L170 105.4L186.4 107L200 109L211 110.3L222 109.5L232.4 108.7L233.5 103L235.7 99.6L242.2 96.3L247.2 101.3L246 106L245.5 109.5L252 112.8L257 107.8L260 112L258.7 116L252 119.3L242.2 121L233 124L224.2 127.5L217.6 133.3L220.9 139L227 142L234 144L235 149L235.7 152.2L240.6 152.2L241 148L242.2 144L247 141L250.4 139L253 134L255.4 129.2L258.7 125L264 125.5L268.5 127.5L272 131L275 135L280 130.8L281.5 135L283.3 139L288 143L291.5 147.2L292 152L290.7 155.5L283.3 158.7L276 160L270 160.4L267 163L265 167L268 168.5L273 166L277 167.5L276 171L270 174L263 177L261 176L260 172L258.2 171.9L258.2 167.6L255.1 167L249 170L239.1 174.3L229.3 177.4L219.4 181.7L222.5 175.6L221.3 170.6L214.5 165.1L207 163L199.7 161.8L180 161.8L133.3 162.2L131 158L130.3 153L132 148L134.5 144.7L131.2 144.2L130.6 136.8L127.5 133L125 129.4Z"/>
<path d="M280 163.7L283 160.5L286.6 159.6L291 160L294 162.8L292.3 167L288 167.5L285 167L281 166.5Z"/>
<path d="M259.5 82.4L266 80L275 78.3L318.6 77.5L312 80.5L306.3 82.4L297 85L288.2 87.3L281 90L275 91.4L268 91.5L262 90.6L257 86.5Z"/>
<path d="M240 90L247 88.5L256 89.5L262 92.5L258 95L249 94.5L242 93Z"/>
<path d="M204.5 90.5L212 88L220 88.5L224 91L219 93.5L210 93.5Z"/>
<path d="M227 87.5L233 85.5L238 87L236 90.5L229 91Z"/>
<path d="M238 83L245 81L252 82.5L250 86L241 86.5Z"/>
<path d="M185.6 100.5L189 97L194.6 95.5L201 95L207.8 96.3L215 97L222.5 99.6L225 103L224.2 106.2L218 107.5L212.7 107.8L204 106.5L196.3 107.8L190 105.5L186.4 102.9Z"/>
<path d="M228 96L233 94.5L237 96.5L235 100L230 100.5Z"/>
<path d="M252 98L259 96L268.5 97.2L277 99.5L285 103L290 108L294 113.6L290 117L285 119.3L281 122L276.7 124.3L272 124L268.5 122.6L271 119L272.6 115L271 110L266 106.5L259.5 107L256 102Z"/>
<path d="M246 122.5L251 121.5L254 124L250 126.5L246 125.5Z"/>
<path d="M133.3 162.2L180 161.8L199.7 161.8L207 163L214.5 165.1L221.3 170.6L222.5 175.6L219.4 181.7L229.3 177.4L239.1 174.3L249 170L255.1 167L258.2 167.6L258.2 171.9L253.9 176.8L247.1 183L243 186L237.9 187.9L234 192L231.7 194L229.3 200.2L226.8 205L222 209L217 213L214 218L213.5 224L212.5 229L210 228.5L208 223L206 217L203 214.5L197 214.5L191 215.5L186 215L181 217L176 220L173.5 224.5L170 221L166 216L161 215.5L157 212.5L152 210.5L144 210.5L137 207.5L127 206.5L124 201L120.5 195L119 189L121 182L124 175L128 168L131 164Z"/>
<path d="M149.7 106L138 103.8L127.5 102.3L120 103.5L114 104.8L106 107L99.2 109.1L99.2 114L91.8 114.6L85.6 116.5L86.3 118.9L94.3 118.9L92.4 122L87 123.5L82 125.1L74.6 129.4L75.8 133.7L82 136.2L85.6 138.6L90.6 138L91.2 135.6L98 132.5L106.6 130.6L111.5 129.4L118.9 130.6L125 130L126.9 133.7L131.2 133.7L133.1 138L134.5 144.7L131.2 144.2L130.6 136.8L127.5 133L125 129.4Z"/>
<path d="M85.6 137.4L88 139.5L78 142.5L66 145L55.5 147.5L55.5 146L66 143L78 140Z"/>
<path d="M124.8 207.5L137 207.5L144 210.5L152 210.5L157 212.5L161 215.5L166 216L170 221L173.5 224.5L169.1 230.3L167.5 239.3L170.8 246.7L175.7 251.6L182.2 250L184.7 244.3L192.1 242.6L190.5 249.2L187.2 254.9L188.8 259L198.7 259.9L199.5 262.3L197.8 267.2L197 272.2L199.5 275.5L205.2 278.7L210.2 277.1L215.1 278.7L216.7 282L211.8 283.7L206.9 281.2L202 282L197 277.1L192.9 273.8L188.8 268.9L182.2 264L177.3 260.7L172.4 258.2L164.2 258.2L154.3 252.5L146.9 245.9L145.3 239.3L141.2 229.5L136.3 218L132.2 211.4L129.7 211.4L131.3 221.3L134.6 231.1L136.3 237.7L134.6 238.5L129.7 230.3L126.4 223L125.6 211.4Z"/>
<path d="M179 256.5L184.5 255.5L186 259L184 263L180 262L177.5 260Z"/>
<path d="M192 265L197.5 263.5L198 268L197 272L193.5 271L191 268Z"/>
<path d="M199.5 240.5L205 239L212 240.5L218 243.5L223.5 246L222 247.8L215 246.5L209 243.5L203 242.5Z"/>
<path d="M225 247.5L230 246.5L236 247.5L238.5 250L235 252.5L229 252L225.5 250.5Z"/>
<path d="M214.3 251L218.4 251L218 253.3L214.8 253Z"/>
<path d="M242.2 250.8L246.3 250.8L246.3 252.8L242.2 252.8Z"/>
<path d="M214.7 281.3L219.6 274.8L229.5 269.9L232.8 273.1L244.3 274.8L255.8 275.6L259 280.5L264 284.6L268.9 288.7L274.6 290.4L278 292L280.4 293.7L284.5 301L287 306L300 310.9L313.2 315L321.4 320.8L323.9 327.3L321.4 335.5L316.5 342.1L313.2 352L314.4 358.2L311.3 368.5L303 374.6L294.9 380.8L290.8 389L285.6 399.2L282.6 404.4L276.4 403.3L271.3 399.2L269.2 404.4L271.3 408.5L276.4 411.5L275.4 416.7L268.2 419.7L265.1 423.8L266.2 427.9L262 432L264.1 437.2L261 442.3L263.1 446.4L259 450.5L259 456.7L264 459L270.3 462.8L272.3 466.5L261 464.9L250.8 458.7L244.6 450.5L240.5 440.3L239.5 427.9L237.4 411.5L235.8 391L236.4 370.5L235.4 358L234.4 358.5L221.3 350.3L216.3 342.1L211.4 332.2L206.5 324L204 315.8L204.9 307.6L208.1 299.4L213 289.6Z"/>
<path d="M227 272.3L229.5 270.5L232.8 273.1L244.3 274.8L255.8 275.6L259 280.5L258.2 284.6L255.8 291.2L248.4 293.7L249.2 297L244.3 301.9L241 301L238.5 288.7L227.8 284.6L225.4 279.7Z"/>
<path d="M268.9 288.7L274.6 290.4L274.6 297.8L270 297.5L268.5 293Z"/>
<path d="M274.6 290.4L278 292L280.4 293.7L277.5 298.6L274.6 297.8Z"/>
<path d="M256.9 364.4L262 362.3L267.2 366.4L270.3 372.6L275.4 375.6L276.4 381.8L272.3 384.9L268.2 382.8L262 375.6L256.9 370.5Z"/>
<path d="M244.6 370.5L250.8 369.5L256.9 370.5L262 375.6L268.2 382.8L273.3 380.8L277.4 382.8L275.4 386.9L272.3 392L271.3 399.2L269.2 404.4L271.3 408.5L276.4 411.5L275.4 416.7L268.2 419.7L265.1 423.8L266.2 427.9L262 432L264.1 437.2L261 442.3L263.1 446.4L259 450.5L259 456.7L255.9 454.6L250.8 448.5L247.7 438.2L244.6 427.9L242.6 417.7L241.5 405.4L241.5 391L243.6 378.7Z"/>
<path d="M263 459L270 463.5L265 463Z"/>
<path d="M273.3 394.1L280.5 396.2L285.6 400.3L282.6 405L275.4 403.7L271.9 399.2Z"/>
<path d="M234.4 297.8L235 306L236 314.2L231 316L224.6 320.8L228 327L232.8 332.2L241 335.5L247.5 342.1L260.7 348.7L264 358.5L262 362.3" stroke="#a8402c" stroke-opacity=".8" stroke-width="0.7"/>
<path d="M204.9 307.6L210 309L216 306L221 301L226 297L234.4 297.8" stroke="#a8402c" stroke-opacity=".8" stroke-width="0.7"/>
<path d="M216 306L213 312L208 317L213 322L220 322L224.6 320.8" stroke="#a8402c" stroke-opacity=".8" stroke-width="0.7"/>
<path d="M241 335.5L238 342L240 350L236 356L236.4 370.5" stroke="#a8402c" stroke-opacity=".8" stroke-width="0.7"/>
<path d="M241 350L246 354L247 362L250.8 369.5" stroke="#a8402c" stroke-opacity=".8" stroke-width="0.7"/>
<path d="M264 284.6L262 289L265 293L263 299L268.5 300L274.6 297.8" stroke="#a8402c" stroke-opacity=".8" stroke-width="0.7"/>
<path d="M367 117L371 114.5L377 113.5L383 114.5L387 117.5L384 121L378 122.5L371 121.5Z"/>
<path d="M433 84L438 81L446 80L455 81.5L458 84L452 86L447 89L441 88.5L437 87Z"/>
<path d="M487 81.3L496 81.3L496 82.8L487 82.8Z"/>
<path d="M425 135L424 129L427 124L431 119L436 114L442 110L449 106.5L456 104L463 103L468 103.5L471 106L472.5 109L472 113L474 118L476 123L477 127L474 131L469 133.5L463 134L459 131L458 126L461 121L458 118L454 121L450 126L449 131L451 135L448 139L446 143L442 145L439 141L438 136L436 132L433 135L430 138L426 138Z"/>
<path d="M439 136L440 129L443 123L447 117L452 112L457 108.5L461 107.5L463 103" stroke-width="0.6"/>
<path d="M458 118L460 113L461 107.5L466 109L470 107L471 106" stroke-width="0.6"/>
<path d="M404.7 135.2L408 134L410.5 137.7L409 141L411 144L413 147.5L416.2 150.8L417 153.5L415.4 155.5L411 156.5L406.3 156.6L408 153.5L405 152L407.2 147.5L405 145.5L402.2 142.6L403 138Z"/>
<path d="M393.2 148L396 144.5L400.6 144.3L401.5 148L400 152.5L396 154.9L393 153Z"/>
<path d="M406.5 165L410 163.5L414 163.5L418 161L421 158L425 157L428 154L431 151L434 148L437 147.5L436 143L435.5 139.5L438.5 138L440 141L439.5 145L443 147L449 146.5L455 145.5L459 146.5L461.5 146L463 143.5L463.5 140L467 138.5L469 140L470 137.5L469 135L473 134L478 134.5L479 138L478 142L481 145L485 147L487 151L484 154L480 155.5L474 154.5L468 154.5L466 157L465 160.5L461 160L455.5 159.5L451 157.5L446 156.5L442 158L445 162L442 165.5L437 166L431 165.5L429 167L430 169.5L430 172L431 175L431 178.5L427 179L423 180.5L417 179.5L411 178L413 174L413.5 170L410 167.5Z"/>
<path d="M393.5 178L398 177L405 177.5L411 178L417 179.5L423 180.5L421.5 182L419.5 186L417 190.5L415 195L411 198L406 199.5L402 198.5L399.5 196L399.5 188L398 184L398.5 181L394.5 181Z"/>
<path d="M394.5 181L398.5 181L398 184L399.5 188L399.5 196L397 198L395 193L394 186Z"/>
<path d="M429.5 155L430.5 150L434 148L437 147.5L439.5 145.5L440.5 147.5L443 147L446 148L446.5 153L445 156L442 158L445 162L442 165.5L437 166L431 165.5L432 161L429 158Z"/>
<path d="M442 158L446 156.5L451 157.5L455.5 159.5L452 162L447 162.5L443.5 161Z"/>
<path d="M437 166L442 165.5L445 162L447 162.5L452 162L454 163L453 166L449 168L443 168.5L438 168Z"/>
<path d="M429 167L431 165.5L437 166L438 168L434 170L430 169.5Z"/>
<path d="M452 162L455.5 159.5L461 160L465 160.5L464 163L458 163.5L454 163Z"/>
<path d="M430 172L434 170L438 168L443 168.5L446 171L443 171L444.5 175L448.5 179L453 183.5L457 186.5L459.5 190L456.5 189.5L456.5 193L454.5 196.5L452.5 192L448 186.5L443 181.5L438.5 177L434 176L431 175Z"/>
<path d="M445.5 196.5L453.5 196L452.5 200L447 199.5Z"/>
<path d="M433.5 183L437 182.5L437.5 189L434 189.5Z"/>
<path d="M434.5 177.5L436.5 177.5L436.5 181.5L434.5 181.5Z"/>
<path d="M453 166L454 163L458 163.5L464 163L466.5 164L464 167.5L459 169.5L455 169Z"/>
<path d="M464 167.5L466.5 164L471 164.5L476 164L479 167L480 171L483 172L482 175L477 176L471 176.5L467 175.5L465 172L462 169Z"/>
<path d="M464 163L465 160.5L466 157L468 154.5L474 154.5L480 155.5L484 154L490 153L496 156L503 158L505 162L502 165.5L497 167L493 166.5L492 169L496 171L492 173L489 170L487 167.5L483 168L482 171L480 171L479 167L476 164L471 164.5L466.5 164Z"/>
<path d="M476 164L479 166L481 169.5L480 171L479 167Z"/>
<path d="M446 171L449 168L455 169L459 169.5L462 169L465 172L467 175.5L467 177L468 180L467.5 183.5L465 185L461 188L458.5 186L456 182.5L452 178.5L448 174.5Z"/>
<path d="M443 168.5L449 168L446 171L443 171Z"/>
<path d="M451 174L453 172L459 171.5L460 175L458 179.5L455 179Z"/>
<path d="M458 179.5L460 179L462 182L465 182.5L467.5 183.5L465 185L462 186L460 184L458 182.5Z"/>
<path d="M458.5 186L458 182.5L460 184L461 188Z"/>
<path d="M467 177L471 176.5L477 176L482 175L481 178L480 183L476 184.5L471 185L467.5 183.5L468 180Z"/>
<path d="M461 188L462 186L465 185L467.5 185L471 185L476 184.5L473 186L470 187L471 190L468 191L470 195L467 198L464 196L463 192Z"/>
<path d="M472 200L478.5 200L478.5 201.8L472 201.8Z"/>
<path d="M493.5 199.8L496 199L498.3 199.6L497 201.5L494 201.5Z"/>
<path d="M476 184.5L480 183L482 185.5L478 186.5Z"/>
<path d="M461.5 146L463 143.5L468 143L472 145L470 148L466 148.5Z"/>
<path d="M463.5 140L467 138.5L469 140L470 137.5L475 138.5L478 142L472 145L468 143L463 143.5Z"/>
<path d="M469 135L473 134L478 134.5L479 138L475 138.5L470 137.5Z"/>
<path d="M459 146.5L461.5 146L464 147.5L459.5 148.3Z"/>
<path d="M428 154L430 156L429.5 155" stroke-width="0.5"/>
<path d="M429 158L426 160L428 163L431 165.5" stroke-width="0.5"/>
<path d="M446 148L446.5 153L445 156" stroke-width="0.5"/>
<path d="M466 157L468 154.5L467 150L470 148" stroke-width="0.5"/>
<path d="M470 148L472 145L478 142" stroke-width="0.5"/>
<path d="M469.9 107.1L477 106.5L484.6 107.9L492.8 112.8L489 115L484.6 115.3L487.9 119.4L493 117.5L497.8 114.5L501 110.4L507.6 112L514.2 109.6L520 109L525.7 107.9L533.9 104.6L538.8 99.7L543.7 98.9L547 106.3L551.9 104.6L553 109L555.2 112.8L556.9 107.9L558.5 101.3L566.7 96.4L574.9 93.1L583 90.5L591.3 89L602.8 90.7L610 93.8L621 97.5L634 97.5L647 101.2L654.3 103L665.4 101.2L669 97.5L672.8 99.4L683.8 100.3L696.8 103L711.5 105.8L724.5 107.7L735.5 106.8L750.3 106.8L757.7 109.5L766.9 116.9L777 124.3L768.8 127L766.9 130.8L760 131L762 135L766.5 143L767 150L765.5 155.5L758 149L753 143L749.5 134L748.5 127L745.7 126L739.2 129L737.4 133.5L728 133.5L713.4 135.4L709.7 143.7L720.8 147.4L730 153.8L733.7 166.8L731.8 176L729 179L725.4 179.7L722.6 172.3L720.8 163L722 158L709.7 150L698.6 147.4L687.5 150L683 153.8L682 159.4L665.4 160.3L659.8 157.5L637.7 154.8L634 158.5L621 156.6L617.4 163L611 162L604.5 157.2L596.3 150.6L584.8 149L574.9 144.9L561.8 145.7L552 150.6L548.7 156.4L532.2 157.2L522.4 158.8L522.8 161.5L525.7 167L524 172L525.7 178.5L521 180L515.8 180L511 177.5L506 172L502 168L502 165.5L505 162L503 158L496 156L490 153L484 154L487 151L485 147L481 145L478 142L479 138L478 134.5L474.8 130.9L478 127.6L476 123L474 118L472 113L472.5 109Z"/>
<path d="M509.3 98.9L512.5 94.8L522.4 91.5L531.4 89.9L531 91.5L524 94L516.7 97.2L515.8 101.3L519.1 103.8L512.5 103Z"/>
<path d="M562.6 81.6L574.9 84.1L588.1 86.6L587 88L573.3 85.7L563 83Z"/>
<path d="M652.5 92L665 91.5L677.4 93.8L665 94L653 93.5Z"/>
<path d="M727 148.5L729.5 149L735 156L741 163L746.6 168.6L745 169L738 163.5L732 157L728 151Z"/>
<path d="M743 102.5L748 102.5L748 104L743 104Z"/>
<path d="M59.8 117L64.7 114.6L69 111L73.3 108.5L78 111L82 114L78.5 117L74.6 119.6L69 117.5Z"/>
<path d="M522.4 158.8L532.2 157.2L548.7 156.4L552 150.6L561.8 145.7L574.9 144.9L584.8 149L596.3 150.6L604.5 157.2L611 162L617.4 163L616 166.5L610 168L606 171.5L604.5 177.9L591.8 179.6L582 181.2L578.7 182.8L568.8 181.2L559 176.3L547.5 174.6L545.8 173L545 178L541 182L537 177L531 171.3L524.5 168L525.7 167L522.8 161.5Z"/>
<path d="M545.8 173L547.5 174.6L559 176.3L568.8 181.2L578.7 182.8L582 187.8L577 188L573 191L569 193.5L565 190L559 186.5L552 181L546 181.5L545 178Z"/>
<path d="M537 182L541 182L546 181.5L552 181L559 186.5L565 190L569 193.5L566 198L560.6 196.8L552.4 193.5L545 193L540 194L538 189Z"/>
<path d="M578.7 182.8L582 181.2L591.8 179.6L603.3 177.9L601.3 180.8L598.2 185L598.2 191L595 195L588 196.5L581 195.5L577 193L573 191L577 188L582 187.8Z"/>
<path d="M578 189L584 190L590 188L598.2 187" stroke-width="0.6"/>
<path d="M482 187L486 184.5L494 183L502 182.5L509 181.5L512 180.5L515.8 182L519 183L521 186L522.8 189.4L519 193L514 194.5L507 196L503 197.5L498 196L492 197L487 196.5L483 193L481.5 190Z"/>
<path d="M511 177.5L515.8 180L521 180L524 182.5L519 183L515.8 182L512 180.5Z"/>
<path d="M519 183L524 182.5L526 187L522.8 189.4L521 186Z"/>
<path d="M521 180L525.7 178.5L530 182.5L531 187L528 189L526 187L524 182.5Z"/>
<path d="M503 197.5L507 196L514 194.5L519 193L517 198L514.6 199.3L510 204L505 206.5L503.5 202Z"/>
<path d="M501.5 203L503.5 202L504 206L502 207.5Z"/>
<path d="M500.3 209.5L502.3 209L502.8 213.5L502 219.5L500.7 216Z"/>
<path d="M503 212L504 206.5L505 206.5L510 204L512 207L507 210L509 213L505 218L502 217.5Z"/>
<path d="M514.6 199.3L517 198L519 193L522.8 189.4L522.8 194.3L525.3 200.9L529.4 209.1L533.5 217.3L529.4 218.1L524 215L521.2 212.4L513 207.5L510 204Z"/>
<path d="M522.8 189.4L526 187L528 189L531 187L534 189L537 193.5L543 194.5L552.4 193.5L560.6 196.8L565.5 205.8L568 215.7L573.7 225.5L568.8 230.5L559 227.2L550.8 225.5L544.2 222.2L537.6 215.7L533.5 217.3L529.4 209.1L525.3 200.9L522.8 194.3Z"/>
<path d="M505 218L509 213L507 210L512 207L513 207.5L521.2 212.4L524 215L529.4 218.1L533 219.5L534 223L538 228L541 232L543 236L547 238L553 236L555.5 232L557 229.5L560 232L563 236L565 240L561 246L556 252L549.4 256.1L543 260L536.1 263.5L531 266.5L527.5 268L526 264L524.3 259L521.5 254L518.4 248.7L515 243L511.8 237L508 229L504.5 222Z"/>
<path d="M529.4 218.1L533.5 217.3L534 221L531 221Z"/>
<path d="M541 229L543 228.5L543 233L541.5 233Z"/>
<path d="M545 237.5L547 238L553 236L555.5 232L557 236L554.6 238L553.9 242.8L548 240.5Z"/>
<path d="M549.4 256.1L556 252L561 246L565 240L563 236L560 232L557 229.5L556 233L557 236L554.6 238L553.9 242.8L549.4 250.2L552 253Z"/>
<path d="M527.5 268L531 266.5L536.1 263.5L543 260L549.4 256.1L552 253L549.4 250.2L543 251.5L536.1 253.2L530 255L524.3 257L526 264Z"/>
<path d="M560.6 196.8L566 198L569 193.5L573 191L577 193L581 195.5L588 196.5L595 195L598 196L592 199L590 202L588 207L583 212L577 216L570 217L568 215.7L565.5 205.8Z"/>
<path d="M568 215.7L570 217L577 216L583 212L588 207L590 202L592 199L597.2 203.3L603.3 209.5L599.2 215.6L593.1 223.8L597.2 230L591 234.1L586 231L580 229L573.7 225.5Z"/>
<path d="M384.6 222L392.8 214.6L395.3 205.6L399.4 199.9L409.3 202.3L417.5 198.2L426 197.5L435.5 197.4L440.5 198.2L441.3 204L439.5 208L442.1 211.3L445.4 208.9L452 211L458.5 214.6L465.1 216.3L465.1 210.5L470 209.5L475 210.5L477.4 213L488 214.6L498 216.3L501.2 214.6L502.9 221.2L500 223L503 232L506.5 240L509 247L511.5 253.5L517 260.6L522 267L526 272L530.5 276.4L534.6 278.5L545.5 271L544 276.5L536 291L523.6 307.3L519.5 315.5L517 320L519 331L517 339.2L520 343.3L519 353.6L510.8 361.8L504.6 369L502.6 376.2L496.4 380.3L495.4 386.4L490.3 394.6L482 401.8L469.7 405.9L461.5 406.9L458.5 400.8L456.4 390.5L452.3 378.2L447.2 365.9L445.1 355.6L447.2 343.3L449.2 331L448.2 322.8L444.1 316.7L440 306.4L438 300L439.5 296.5L436 294L431 295.5L427 295L421 291.5L414 290L406.7 290L400 291L395.4 292.5L390 289.5L386.2 284.7L380 276.5L376 272L370.5 266L372.6 258L371.5 250L371.5 242.5L376.4 232.7Z"/>
<path d="M384.6 222L392.8 214.6L395.3 205.6L399.4 199.9L409.3 202.3L410.9 208.1L407.6 213L399 219L394.5 222L392.8 223.7Z"/>
<path d="M409.3 202.3L417.5 198.2L426 197.5L435.5 197.4L437.2 204.8L436.4 211.3L440.5 214.6L439.6 227.8L442.1 233.5L443.7 237.6L424.9 248.3L420.8 245.8L394.5 225.3L394.5 222L399 219L407.6 213L410.9 208.1Z"/>
<path d="M440.5 214.6L442.1 211.3L445.4 208.9L452 211L458.5 214.6L465.1 216.3L465.1 210.5L470 209.5L475 210.5L477.4 213L477.4 245.8L473.3 245.8L453.6 237.6L449.5 237.6L443.7 237.6L442.1 233.5L439.6 227.8Z"/>
<path d="M477.4 213L488 214.6L498 216.3L501.2 214.6L502.9 221.2L500 223L503 232L506.5 240L477.4 240Z"/>
<path d="M513 267L517 261L522 265L527 272L530 277.5L534 280L540 282L533 290L526 292L521 292L514 293L509 288L505.5 281L509 274Z"/>
<path d="M509 291.5L514 293L521 292L523 297L521.5 304L523 308L519.5 315.5L514 311.5L507 307L507 299Z"/>
<path d="M458.5 400.8L456.4 390.5L460 390L461 385L465 383L468 385L473 381L478 375L484 372L489 371L492 374L493 379L496.4 380.3L495.4 386.4L490.3 394.6L482 401.8L469.7 405.9L461.5 406.9Z"/>
<path d="M481 390.5L484 388.5L486 391L483 393.5Z"/>
<path d="M445.1 355.6L452 355L460 355.5L468 354.5L470 356L464 357L464 368L461 368.5L461 385L460 390L456.4 390.5L452.3 378.2L447.2 365.9Z"/>
<path d="M464 357L470 356L475 360L480 366L484 372L478 375L473 381L468 385L465 383L461 385L461 368.5L464 368Z"/>
<path d="M447.2 343.3L449.2 331L448.2 324L453 323.5L459 324L462 330L467 331L468 337L472 338L471 345L468 346L468 354.5L460 355.5L452 355L445.1 355.6Z"/>
<path d="M468 346L471 345L472 338L478 340L483 337L489 334L494 337L495 343L491 348L486 351L482 355L476 357L470 356L468 354.5Z"/>
<path d="M495 343L500 341L508 340L517 339.2L520 343.3L519 353.6L510.8 361.8L504.6 369L502.6 376.2L496.4 380.3L493 379L495 372L497 364L494 358L491 353L497 351L497 346Z"/>
<path d="M527 375L526 366L529 358L535 352L540 343L543.5 343L545 349L542 360L538 372L534 379L529.5 380Z"/>
<path d="M394.5 225.3L384 233L376.4 232.7" stroke-width="0.6"/>
<path d="M371.5 242.5L384 242.5L384 233" stroke-width="0.6"/>
<path d="M394.5 225.3L395 250L396 262L378 262L373 258" stroke-width="0.6"/>
<path d="M424.9 248.3L424 258L416 262L408 263L406 268L400 271L396 262" stroke-width="0.6"/>
<path d="M443.7 237.6L447 247L452 258L449 262L443 263L436 265L430 263L424 258" stroke-width="0.6"/>
<path d="M453.6 237.6L452 243L452 258" stroke-width="0.6"/>
<path d="M477.4 245.8L477.4 240" stroke-width="0.6"/>
<path d="M473.3 245.8L473 252L469 258L470 266L465 272L458 276L452 279L449 275L449 262" stroke-width="0.6"/>
<path d="M477.4 240L477.4 245.8" stroke-width="0.6"/>
<path d="M506.5 240L477.4 240" stroke-width="0.6"/>
<path d="M470 266L474 270L480 277L486 283L492 284L497 280L501 284L507 283L510 281" stroke-width="0.6"/>
<path d="M513 267L511 261L511.5 253.5" stroke-width="0.6"/>
<path d="M486 283L481 286L474 287L468 286L462 288L458 290L455 296L449 297L441.5 297" stroke-width="0.6"/>
<path d="M452 279L455 285L455 296" stroke-width="0.6"/>
<path d="M449 275L444 278L441 285L441 293" stroke-width="0.6"/>
<path d="M436 265L437 272L433 277L430 282L427 287L425 289.5" stroke-width="0.6"/>
<path d="M430 263L424 266L421 270L415 272L414 285" stroke-width="0.6"/>
<path d="M406 268L408 272L408 285.5" stroke-width="0.6"/>
<path d="M400 271L401 278L400 288.5" stroke-width="0.6"/>
<path d="M396 262L392 268L388 272L389 278L386.2 284.7" stroke-width="0.6"/>
<path d="M378 262L376 266L381 268L384 273L380 276.5" stroke-width="0.6"/>
<path d="M381 268L386 268L388 272" stroke-width="0.6"/>
<path d="M389 278L393 281L395 286L395.4 292" stroke-width="0.6"/>
<path d="M370.5 266L376 264.5L378 262" stroke-width="0.6"/>
<path d="M458 290L460 297L463 303L461 310L455 315L450 320L448.2 322.8" stroke-width="0.6"/>
<path d="M449 297L450 303L446 306L440 306.4" stroke-width="0.6"/>
<path d="M450 303L455 303L456 310L455 315" stroke-width="0.6"/>
<path d="M492 284L495 290L494 296L498 300L497 306L499 312L494 318L493 324L489 334" stroke-width="0.6"/>
<path d="M497 306L503 306L511 307" stroke-width="0.6"/>
<path d="M510 281L507 287L509 292L514 291" stroke-width="0.6"/>
<path d="M498 300L503 299L511 299" stroke-width="0.6"/>
<path d="M493 324L499 326L506 328L512 328L519 331" stroke-width="0.6"/>
<path d="M517 312L513 318L512 328" stroke-width="0.6"/>
<path d="M453 323.5L456 319L461 316L465 319L470 322L476 321L478 328L483 331L483 337" stroke-width="0.6"/>
<path d="M494 337L499 338L500 341" stroke-width="0.6"/>
<path d="M499 338L502 344L501 350L497 351" stroke-width="0.6"/>
<path d="M482 355L486 358L491 358L494 358" stroke-width="0.6"/>
<path d="M480 366L484 363L486 358" stroke-width="0.6"/>
<path d="M489 371L493 368L495 372" stroke-width="0.6"/>
<path d="M526 292L531 291L533 290" stroke-width="0.6"/>
<path d="M524 269.5L520 265L517 261" stroke-width="0.6"/>
<path d="M528 273L530.5 276.4" stroke-width="0.6"/>
<path d="M535 280L537 277.5" stroke-width="0.6"/>
<path d="M605.4 172.6L611.5 163.1L615.6 164.4L617.4 163L621 165.8L628.5 172.3L641.4 178.8L658 182.5L671 180.6L684 172.3L691 167.7L680 165L682 159.4L683 153.8L687.5 150L698.6 147.4L709.7 150L722 158L720.8 163L722.6 172.3L718 178L716 184L712 188L716 191L708 189L704.3 186.3L699.4 190.4L704 193L709.3 190.4L712 195L709.3 202.7L717.5 214.2L719.9 222.4L715.8 232.2L707.6 238.8L697.8 242.1L692.8 243.7L691.5 247.4L688 246L683.3 246.4L678 243L673 240.3L667 244.4L664 241L661.8 236.2L662 231L664.9 229L660.8 224.8L652.6 224.8L645 225.5L636.2 226.8L626 225L615.7 221.7L608.5 212.5L605.4 207.4L597.2 205.3L598 196L595 195L598.2 191L598.2 185L601.3 180.8Z"/>
<path d="M693.6 250.5L697.7 249.5L698.5 252L695 253.5Z"/>
<path d="M719.5 232.5L723 231.4L724 235L721 239L719 236Z"/>
<path d="M617.4 163L621 156.6L634 158.5L637.7 154.8L659.8 157.5L665.4 160.3L682 159.4L680 165L691 167.7L684 172.3L671 180.6L658 182.5L641.4 178.8L628.5 172.3L621 165.8Z"/>
<path d="M716 184L718 180L722 178.5L726 180.5L724 185L726 190L722 192.5L718 192L716 191L712 188Z"/>
<path d="M722 192.5L726 190L729 193L730.5 199L728 203L723 204L721 199Z"/>
<path d="M745.4 177L749 175.6L754 177L756.9 180L753 181.3L748 181.3Z"/>
<path d="M749.5 186.3L752 184.6L755 189L758.5 196L756.9 202.7L752 205L748.7 206L742.1 207.6L738.8 212.5L735.5 210L735.5 207.6L740.5 202.7L748.7 197.8L752 192.8Z"/>
<path d="M740 208.5L744 207.5L745 210L741 211Z"/>
<path d="M597.2 203.3L607.4 205.4L611.5 209.5L609 213L613 217L617.7 217.7L616 221L622 225L630 227.5L637 229L640.3 228L640 224.5L645 222.5L648 225L654 225.5L652.6 220.8L656.7 220.8L660.8 222.8L664.9 229L662 231L661.8 236.2L658 240L656.7 240.3L655 234L652 231L647 230L646 235L647 240L642.3 240.3L637 245L632 250.5L627 257L625.9 262L624 268L621.8 273L618.5 281L614.5 277L611.5 269L608 260L605.4 252.6L603 247L601.3 242.3L598 245L594.1 243L593 239L597 238L591 234.1L597.2 230L593.1 223.8L599.2 215.6L603.3 209.5Z"/>
<path d="M616 221L617.7 217.7L626 221L636.2 223.8L640 224.5L640.3 228L637 229L630 227.5L622 225Z"/>
<path d="M645 222.5L652.6 220.8L654 225.5L648 225Z"/>
<path d="M646 230L652 231L655 234L656.7 240.3L654 241L652 237L650 240L647 240L646 235Z"/>
<path d="M621 278L624 276.5L626.7 281L626 286L622.5 287.5L620.5 283Z"/>
<path d="M654 241L656.7 240.3L658 234L660.8 226L664.9 229L662 231L661.8 236.2L664 241L667 244.4L671 247L668 251L670 256L672 262L673 268L672 274L669.5 269L668 262L665 261L661 262L658 256L655 249L652.5 245Z"/>
<path d="M667 244.4L673 240.3L678 243L683.3 246.4L688 246L690 251L687 255L691 260L696 266L698 273L696 279L691 284L687 287L686 281L682 283L678 279L676 276L675 268L677 272L680 279L683 285L684 291L688 296L691 300L687 300.5L683 298L679 293L677 287L676 281L673 272L672 262L670 256L668 251L671 247Z"/>
<path d="M671 247L675 249L678 253L683 253L687 255" stroke-width="0.6"/>
<path d="M678 253L681 259L686 264L688 270L686 275L682 275L680 279" stroke-width="0.6"/>
<path d="M688 270L692 270L696 266" stroke-width="0.6"/>
<path d="M686 275L688 281L686 281" stroke-width="0.6"/>
<path d="M675 268L679 264L681 259" stroke-width="0.6"/>
<path d="M677 287L680 286L684 291L688 296L691 300L687 300.5L683 298L679 293Z"/>
<path d="M661.5 289.7L666 289L669.7 290.8L676 297L682 305L687 312L690.3 317.4L689 323L685 321L680 315.4L674 308L669.7 303L665 297L663 293Z"/>
<path d="M689 323.5L696 324L702.6 325.6L708 327.5L712.8 329.7L711.8 331.8L705 331L698.5 328.7L691 327Z"/>
<path d="M715 330.5L720 330.5L720 332.5L715 332.5Z"/>
<path d="M722 331.5L729 331L729 333L722 333.5Z"/>
<path d="M732 331L740 328.5L742 330L734 333.5Z"/>
<path d="M697.4 301L701 297.5L707 297L712 295L716 292L722 293.8L720 298L719 303L718 309L716.9 315.4L712 316.5L706.7 316.4L702 314L699.5 311.3L698 306Z"/>
<path d="M701 297.5L704.6 295.9L709 292L714.9 288.7L719 290L722 293.8L716 292L712 295L707 297Z"/>
<path d="M726 304L729 301.5L736 301L739.5 302.5L735 304.5L730 305L731 309L736 308L737 310.5L732 313L734 319L731.5 321L729 316L727 321L725 319L726 311Z"/>
<path d="M744 303L746 301L747 306L745 308Z"/>
<path d="M744 314L750 313.5L750 315.5L744 316Z"/>
<path d="M723.3 252L727 251L729 255L728 260L730 264L727 265.5L724.5 262L723 257Z"/>
<path d="M729 268L733 267L735 271L732 273L729.5 271.5Z"/>
<path d="M734 273L738 272.5L738.5 277L735 277Z"/>
<path d="M733.5 280L737 278.5L741 279L742 284L740 287.5L737 287L736 283L733 284Z"/>
<path d="M722 273.5L725 270.5L726 272L723 276Z"/>
<path d="M755.9 308L760 306L765 308L768 312L773 311L778 313L781.5 316L781.5 330.8L777 327L772 323L767 321L763 316L758 314L755 311Z"/>
<path d="M781.5 316L787 318L792 321L796 324L800 327L803 331L806 335L800 334.5L795 332L790 331L786 332.5L781.5 330.8Z"/>
<path d="M800 316L806 318L808 321L803 320.5Z"/>
<path d="M700.5 381.6L703.6 369L712 365L720 361L729 355L734 349L740 347L745 343L750 342.6L757 339.5L763 340L768 340.5L766 345L764 351L770 354.5L776.5 357L779 350L781 343L782.7 338.5L785 344L787 350L789 355L793 362L795 369L799 374L801 379.5L800 388L798 396L793 403.5L786.8 410L779 415L770 417.5L763 416.5L756 414.5L754 408L753 402L748 406L744 401L735.4 399L727 400L719 402L712 405L704.6 407L698.5 405L700 398L702.6 392Z"/>
<path d="M758 425L763 426L768 425L767 430L763 433.5L759.5 431Z"/>
<path d="M838.5 408L841 410L843 414L847 414.5L845 418L841 421.5L838 420L840 416L838.5 412Z"/>
<path d="M836 423L838 425L833 430L826 434.5L818 438.5L809 441.5L802 441L801 439L808 436L816 432L824 428L830 424Z"/>
<path d="M829 362.5L831 362L836 367L835 368Z"/>
<path d="M866 352L869 351L869.5 353L866.5 354Z"/>
<path d="M815 327L818 327.5L822 330.5L819 330.5Z"/>
<path d="M838 344.5L839.5 344.5L841 350L839.5 350Z"/>
<path d="M525.3 168.9L528.5 167L531.9 167.2L537.6 171.3L539.3 177.9L542.5 184.5L546.7 191L546.7 196L543 197.8L539.3 197.6L533.5 194.3L531 186.9L529.4 179.6L525.3 174.6Z"/>
</g></svg>
<div class="leg" style="left:136px">No data</div>
<div class="leg" style="left:173px">0</div>
<div class="leg" style="left:259px">&lt;0.01</div>
<div class="leg" style="left:342.5px">0.1</div>
<div class="leg" style="left:427.5px">0.5</div>
<div class="leg" style="left:512.5px">1</div>
<div class="leg" style="left:597.5px">2</div>
<div class="leg" style="left:682.5px">5</div>
<div class="leg" style="left:767.5px">10</div>
<div class="leg" style="left:852px">&gt;20</div>
<svg style="position:absolute;left:0;top:485px" width="975" height="20" viewBox="0 485 975 20">
<rect x="115.500" y="490.500" width="41" height="10" fill="#ececec" stroke="#ccc" stroke-width="1"/>
<rect x="172" y="490" width="85" height="11" fill="#fff7ec"/>
<rect x="257" y="490" width="85" height="11" fill="#fee8c8"/>
<rect x="342" y="490" width="85" height="11" fill="#fdd49e"/>
<rect x="427" y="490" width="85" height="11" fill="#fdbb84"/>
<rect x="512" y="490" width="85" height="11" fill="#fc8d59"/>
<rect x="597" y="490" width="85" height="11" fill="#ef6548"/>
<rect x="682" y="490" width="85" height="11" fill="#d7301f"/>
<rect x="767" y="490" width="85" height="11" fill="#990000"/>
<rect x="172.500" y="490.500" width="340" height="10" fill="none" stroke="#c9c0b5" stroke-opacity=".7" stroke-width="1"/>
<path d="M257.500 486V500M342.500 486V500M427.500 486V500M512.500 486V500M597.500 486V500M682.500 486V500M767.500 486V500" stroke="#b9a58f" stroke-width="1" fill="none"/>
</svg>
<div id="src">Source: European CDC – Situation Update Worldwide – Last updated 2 October, 10:06 (London time)</div>
<div id="cc">CC BY</div>
<svg style="position:absolute;left:22px;top:543px" width="18" height="18" viewBox="0 0 18 18"><path d="M2 0.500 L16.500 8.500 L2 16.500 Z" fill="#6a6a6a"/></svg>
<div class="tl" style="left:46px">Dec 31, 2019</div>
<div class="tl" style="left:869px">Oct 2, 2020</div>
<svg style="position:absolute;left:140px;top:540px" width="730" height="24" viewBox="140 540 730 24">
<rect x="146" y="550.500" width="702" height="3" rx="1.500" fill="#8795a6"/>
<circle cx="854" cy="552" r="6.700" fill="#fff" stroke="#5f86ad" stroke-width="1.400"/>
</svg>
<div id="tabs">
<div class="tab" style="left:0;width:148px">CHART</div>
<div class="tab on" style="left:148px;width:135px">MAP</div>
<div class="tab" style="left:283px;width:143px">TABLE</div>
<div class="tab" style="left:426px;width:165px">SOURCES</div>
<div class="tab" style="left:591px;width:244px"><svg width="11" height="11" viewBox="0 0 12 12" style="vertical-align:-1px;margin-right:4px"><path d="M4.500 0h3v4.500h2.500L6 8.500 2 4.500h2.500zM0.500 9.500h11v2.500h-11z" fill="#666"/></svg>DATA/DOWNLOADS</div>
<div class="tab" style="left:835px;width:117px;border-right:none"><svg width="12" height="12" viewBox="0 0 12 12" style="vertical-align:-2px"><circle cx="9.500" cy="2.200" r="2" fill="#666"/><circle cx="2.500" cy="6" r="2" fill="#666"/><circle cx="9.500" cy="9.800" r="2" fill="#666"/><path d="M9.500 2.200L2.500 6l7 3.800" stroke="#666" stroke-width="1.200" fill="none"/></svg></div>
</div>
</body></html>
